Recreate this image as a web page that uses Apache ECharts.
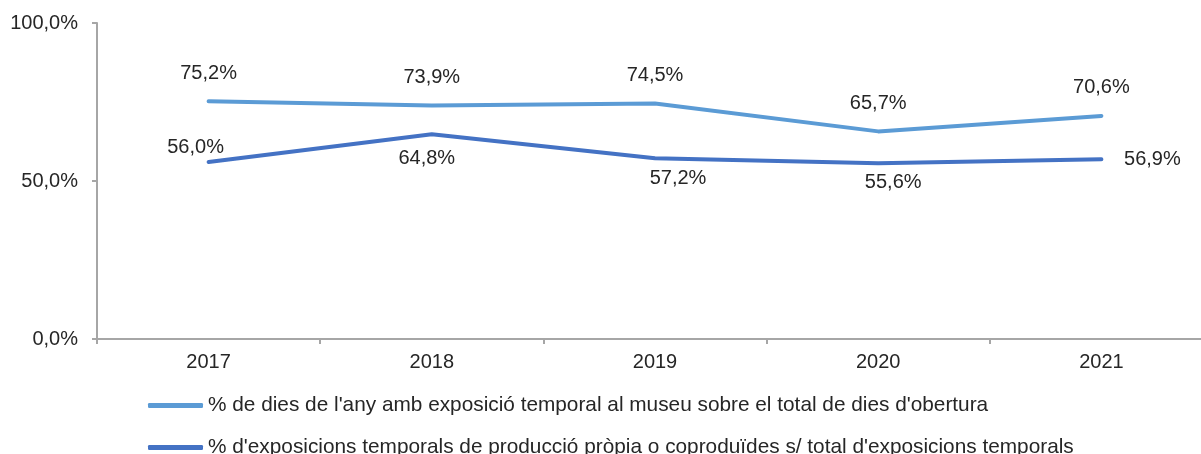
<!DOCTYPE html>
<html>
<head>
<meta charset="utf-8">
<script src="https://cdn.jsdelivr.net/npm/echarts@6/dist/echarts.min.js"></script>
<style>
  html, body { margin: 0; padding: 0; background: #fff; }
  #chart { width: 1201px; height: 454px; }
</style>
</head>
<body>
<div id="chart"></div>
<script>
var years = ["2017", "2018", "2019", "2020", "2021"];
var diesExposicio = [75.2, 73.9, 74.5, 65.7, 70.6];
var produccioPropia = [56.0, 64.8, 57.2, 55.6, 56.9];
var seriesNames = [
  "% de dies de l'any amb exposició temporal al museu sobre el total de dies d'obertura",
  "% d'exposicions temporals de producció pròpia o coproduïdes s/ total d'exposicions temporals"
];

// label offsets of the second line (per year)
var offsets2 = [[-13, -15], [-5, 24], [23, 20], [15, 19], [51, 0]];

var font = "Liberation Sans, Arial, sans-serif";
function pct(v) {
  return v.toFixed(1).replace(".", ",") + "%";
}
function legendRow(name, top) {
  return {
    left: 148,
    top: top,
    padding: 0,
    itemWidth: 55,
    itemHeight: 5,
    icon: "roundRect",
    textStyle: { fontFamily: font, fontSize: 20.8, color: "#262626" },
    data: [name]
  };
}

var chart = echarts.init(document.getElementById("chart"));
var option = {
  animation: false,
  color: ["#5B9BD5", "#4472C4"],
  grid: { left: 97, width: 1116, top: 23, bottom: 115, outerBoundsMode: "none" },
  legend: [legendRow(seriesNames[0], 395), legendRow(seriesNames[1], 437)],
  xAxis: {
    type: "category",
    data: years,
    axisLine: { lineStyle: { color: "#A6A6A6", width: 2 } },
    axisTick: { show: true, length: 5, lineStyle: { color: "#A6A6A6", width: 2 } },
    axisLabel: { margin: 13, fontFamily: font, fontSize: 20, color: "#262626" }
  },
  yAxis: {
    type: "value",
    min: 0,
    max: 100,
    interval: 50,
    splitLine: { show: false },
    axisLine: { show: true, lineStyle: { color: "#A6A6A6", width: 2 } },
    axisTick: { show: true, length: 5, lineStyle: { color: "#A6A6A6", width: 2 } },
    axisLabel: {
      margin: 19, fontFamily: font, fontSize: 20, color: "#262626",
      formatter: function (v) { return pct(v); }
    }
  },
  series: [
    {
      name: seriesNames[0],
      type: "line",
      data: diesExposicio,
      symbol: "circle",
      symbolSize: 1,
      lineStyle: { width: 4, cap: "round", join: "round" },
      label: {
        show: true, position: "inside", offset: [0, -28],
        fontFamily: font, fontSize: 20, color: "#262626",
        formatter: function (p) { return pct(p.value); }
      }
    },
    {
      name: seriesNames[1],
      type: "line",
      data: produccioPropia.map(function (v, i) {
        return { value: v, label: { offset: offsets2[i] } };
      }),
      symbol: "circle",
      symbolSize: 1,
      lineStyle: { width: 4, cap: "round", join: "round" },
      label: {
        show: true, position: "inside",
        fontFamily: font, fontSize: 20, color: "#262626",
        formatter: function (p) { return pct(p.value); }
      }
    }
  ]
};
chart.setOption(option);
</script>
</body>
</html>
